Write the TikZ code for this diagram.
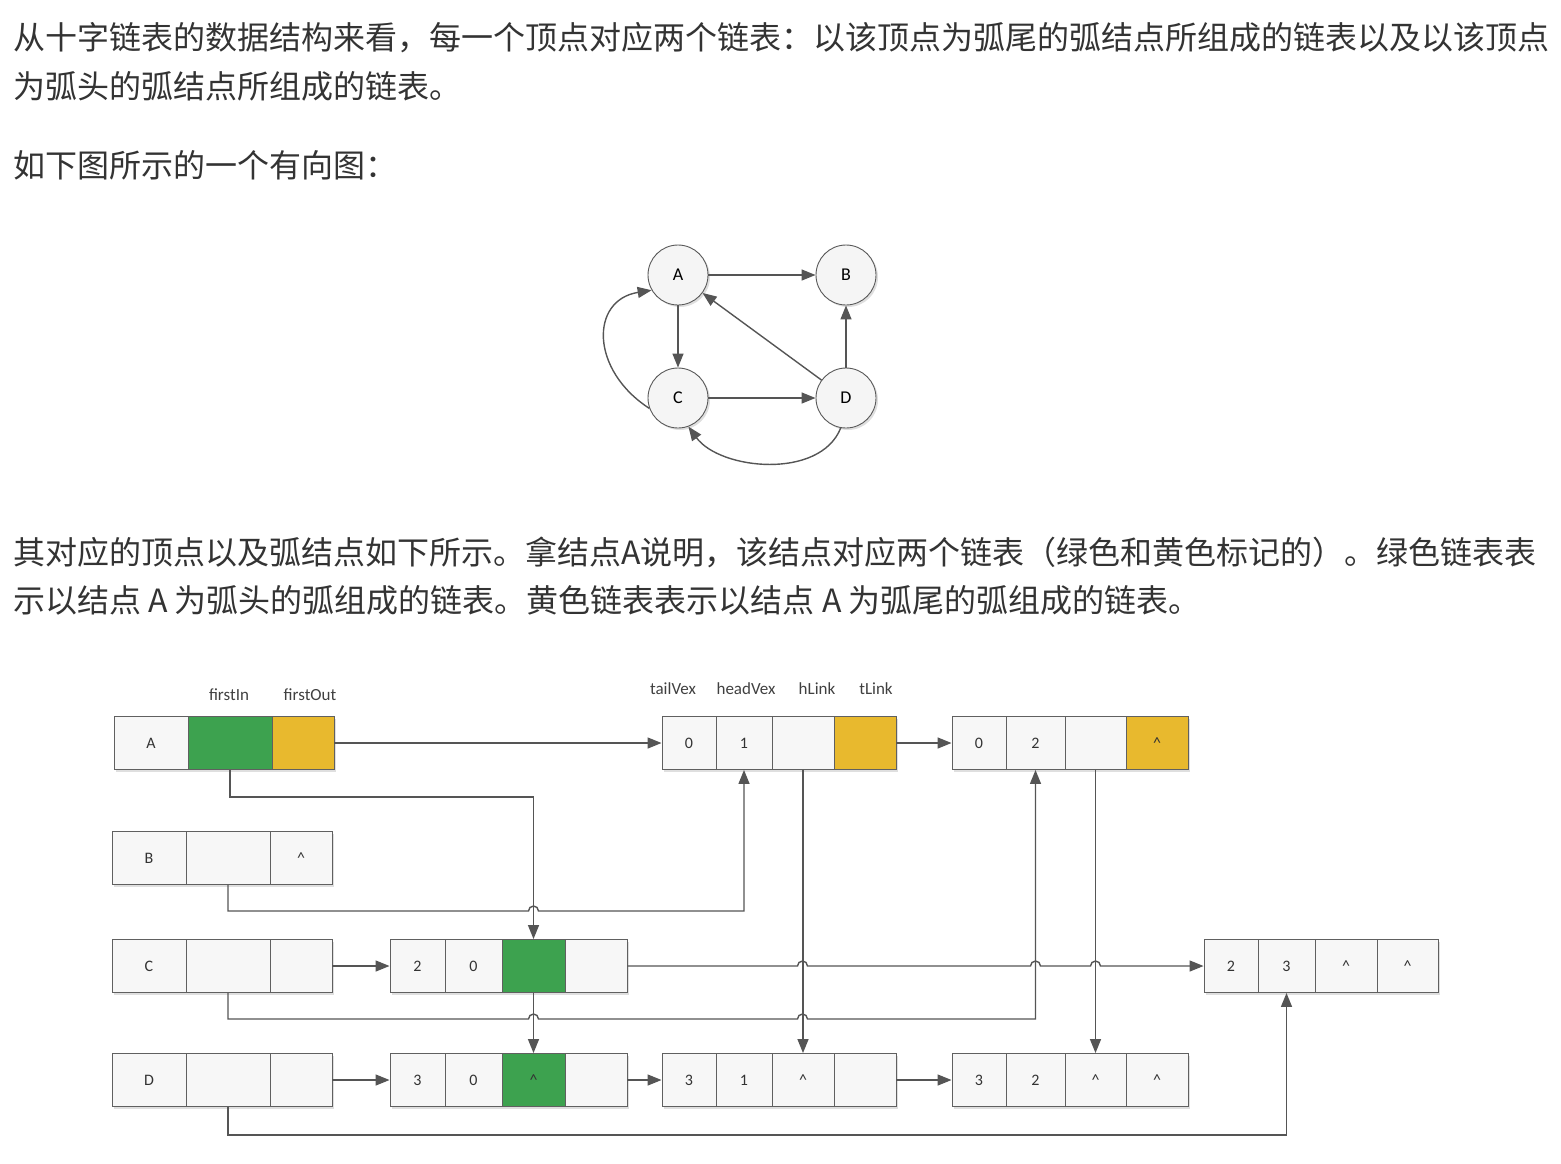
\documentclass[tikz,border=0pt]{standalone}
\usepackage{fontspec}
\setmainfont{Noto Sans CJK SC}
\newfontfamily\lab{Carlito}
\usetikzlibrary{arrows.meta,shadows}
\definecolor{txt}{HTML}{333333}
\definecolor{grn}{HTML}{3DA24F}
\definecolor{ylw}{HTML}{E8B92E}
\definecolor{lnk}{HTML}{555555}
\begin{document}
\begin{tikzpicture}[x=1pt,y=-1pt,
  para/.style={anchor=west,inner sep=0,text=txt,font=\fontsize{32}{36}\selectfont},
  cell/.style={draw=gray!75!black,fill=gray!6,minimum height=53,inner sep=0,font=\lab\fontsize{16}{18}\selectfont,text=black!80,line width=0.9,drop shadow={shadow xshift=2pt,shadow yshift=-2pt,opacity=0.25}},
  g/.style={fill=grn},
  yl/.style={fill=ylw},
  vtx/.style={circle,draw=gray!70!black,fill=gray!8,minimum size=60,inner sep=0,font=\lab\fontsize{18}{20}\selectfont,line width=0.9,drop shadow={shadow xshift=2pt,shadow yshift=-2pt,opacity=0.25}},
  link/.style={draw=lnk,line width=1.4,-{Triangle[length=14,width=11]}},
  hd/.style={font=\lab\fontsize{17}{19}\selectfont,text=black!75,inner sep=0}]
\useasboundingbox (0,0) rectangle (1561,1163);
% texts
\node[para] (t1) at (13,38) {从十字链表的数据结构来看，每一个顶点对应两个链表：以该顶点为弧尾的弧结点所组成的链表以及以该顶点};
\node[para] (t2) at (13,86) {为弧头的弧结点所组成的链表。};
\node[para] (t3) at (13,165) {如下图所示的一个有向图：};
\node[para] (t4) at (13,552) {其对应的顶点以及弧结点如下所示。拿结点A说明，该结点对应两个链表（绿色和黄色标记的）。绿色链表表};
\node[para] (t5) at (13,600) {示以结点 A 为弧头的弧组成的链表。黄色链表表示以结点 A 为弧尾的弧组成的链表。};
% graph
\node[vtx] (A) at (678,275) {A};
\node[vtx] (B) at (846,275) {B};
\node[vtx] (C) at (678,398) {C};
\node[vtx] (D) at (846,398) {D};
\draw[link] (A) -- (B);
\draw[link] (A) -- (C);
\draw[link] (C) -- (D);
\draw[link] (D) -- (B);
\draw[link] (D) -- (A);
\draw[link] (C.200) .. controls (590,370) and (590,300) .. (A.210);
\draw[link] (D.260) .. controls (820,480) and (720,470) .. (C.-70);
% headers
\node[hd] (h1) at (229,695) {firstIn};
\node[hd] (h2) at (310,695) {firstOut};
\node[hd] (h3) at (673,689) {tailVex};
\node[hd] (h4) at (746,689) {headVex};
\node[hd] (h5) at (817,689) {hLink};
\node[hd] (h6) at (876,689) {tLink};
% vertex rows
\node[cell,minimum width=74] (Av) at (151,743) {A};
\node[cell,minimum width=84,g] (Ai) at (230,743) {};
\node[cell,minimum width=62,yl] (Ao) at (303,743) {};
\node[cell,minimum width=74] (Bv) at (149,858) {B};
\node[cell,minimum width=84] (Bi) at (228,858) {};
\node[cell,minimum width=62] (Bo) at (301,858) {\textasciicircum};
\node[cell,minimum width=74] (Cv) at (149,966) {C};
\node[cell,minimum width=84] (Ci) at (228,966) {};
\node[cell,minimum width=62] (Co) at (301,966) {};
\node[cell,minimum width=74] (Dv) at (149,1080) {D};
\node[cell,minimum width=84] (Di) at (228,1080) {};
\node[cell,minimum width=62] (Do) at (301,1080) {};
% arc 0->1
\node[cell,minimum width=54] (a1t) at (689,743) {0};
\node[cell,minimum width=56] (a1h) at (744,743) {1};
\node[cell,minimum width=62] (a1l) at (803,743) {};
\node[cell,minimum width=62,yl] (a1o) at (865,743) {};
% arc 0->2
\node[cell,minimum width=54] (a2t) at (979,743) {0};
\node[cell,minimum width=59] (a2h) at (1035.5,743) {2};
\node[cell,minimum width=61] (a2l) at (1095.5,743) {};
\node[cell,minimum width=62,yl] (a2o) at (1157,743) {\textasciicircum};
% arc 2->0
\node[cell,minimum width=55] (a3t) at (417.5,966) {2};
\node[cell,minimum width=57] (a3h) at (473.5,966) {0};
\node[cell,minimum width=63,g] (a3l) at (533.5,966) {};
\node[cell,minimum width=62] (a3o) at (596,966) {};
% arc 2->3
\node[cell,minimum width=54] (a4t) at (1231,966) {2};
\node[cell,minimum width=57] (a4h) at (1286.5,966) {3};
\node[cell,minimum width=62] (a4l) at (1346,966) {\textasciicircum};
\node[cell,minimum width=61] (a4o) at (1407.5,966) {\textasciicircum};
% arc 3->0
\node[cell,minimum width=55] (a5t) at (417.5,1080) {3};
\node[cell,minimum width=57] (a5h) at (473.5,1080) {0};
\node[cell,minimum width=63,g] (a5l) at (533.5,1080) {\textasciicircum};
\node[cell,minimum width=62] (a5o) at (596,1080) {};
% arc 3->1
\node[cell,minimum width=54] (a6t) at (689,1080) {3};
\node[cell,minimum width=56] (a6h) at (744,1080) {1};
\node[cell,minimum width=62] (a6l) at (803,1080) {\textasciicircum};
\node[cell,minimum width=62] (a6o) at (865,1080) {};
% arc 3->2
\node[cell,minimum width=54] (a7t) at (979,1080) {3};
\node[cell,minimum width=59] (a7h) at (1035.5,1080) {2};
\node[cell,minimum width=61] (a7l) at (1095.5,1080) {\textasciicircum};
\node[cell,minimum width=62] (a7o) at (1157,1080) {\textasciicircum};
% links
\draw[link] (Ao.east) -- (a1t.west);
\draw[link] (a1o.east) -- (a2t.west);
\draw[link] (Co.east) -- (a3t.west);
\draw[link] (Do.east) -- (a5t.west);
\draw[link] (a5o.east) -- (a6t.west);
\draw[link] (a6o.east) -- (a7t.west);
\draw[link] (Ai.south) -- (230,797) -- (a3l.north |- 0,797) -- (a3l.north);
\draw[link] (Bi.south) -- (228,911) -- (528.5,911) arc[start angle=180,end angle=360,radius=5] -- (744,911) -- (a1h.south);
\draw[link] (a3o.east) -- (797.5,966) arc[start angle=180,end angle=360,radius=5] -- (1030.5,966) arc[start angle=180,end angle=360,radius=5] -- (1090.5,966) arc[start angle=180,end angle=360,radius=5] -- (a4t.west);
\draw[link] (Ci.south) -- (228,1019) -- (528.5,1019) arc[start angle=180,end angle=360,radius=5] -- (797.5,1019) arc[start angle=180,end angle=360,radius=5] -- (1035.5,1019) -- (a2h.south);
\draw[link] (a3l.south) -- (a5l.north);
\draw[link] (a1l.south) -- (a6l.north);
\draw[link] (a2l.south) -- (a7l.north);
\draw[link] (Di.south) -- (228,1135) -- (1286.5,1135) -- (a4h.south);
\end{tikzpicture}
\end{document}
